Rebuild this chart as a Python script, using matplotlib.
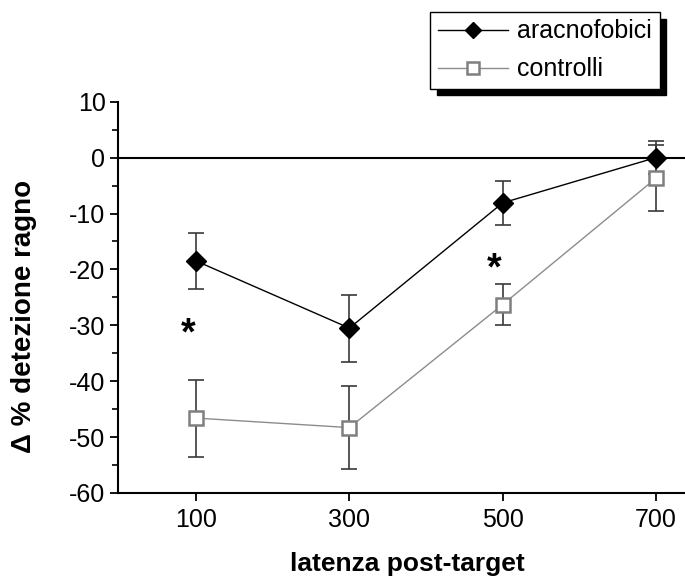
import matplotlib
matplotlib.use("Agg")
import matplotlib.pyplot as plt
from matplotlib.ticker import MultipleLocator

plt.rcParams['font.family'] = ['Liberation Sans', 'DejaVu Sans']
plt.rcParams['axes.unicode_minus'] = False

# ---- data ----
categories = ['100', '300', '500', '700']
aracno_mean = [-18.5, -30.5, -8.1, 0.0]
aracno_err = [5.0, 6.0, 3.9, 3.0]
ctrl_mean = [-46.6, -48.3, -26.3, -3.7]
ctrl_err = [6.9, 7.4, 3.6, 5.9]
series_names = ['aracnofobici', 'controlli']
sig_categories = ['100', '500']
sig_y = [-30.0, -18.5]
y_ticks = [10, 0, -10, -20, -30, -40, -50, -60]
xlabel = 'latenza post-target'
ylabel = 'Δ % detezione ragno'

fig = plt.figure(figsize=(6.85, 5.80), dpi=100)
ax = fig.add_axes([118/685, 1-493/580, 1-118/685, (493-101.7)/580])

x = list(range(len(categories)))

ax.axhline(0, color='black', lw=1.5, zorder=1)

err_color = '#3a3a3a'
ax.errorbar(x, ctrl_mean, yerr=ctrl_err, fmt='none', ecolor=err_color,
            elinewidth=1.2, capsize=5.8, capthick=1.2, zorder=2)
ax.errorbar(x, aracno_mean, yerr=aracno_err, fmt='none', ecolor=err_color,
            elinewidth=1.2, capsize=5.8, capthick=1.2, zorder=2)

ax.plot(x, ctrl_mean, color='#8c8c8c', lw=1.0, marker='s', ms=10,
        mfc='white', mec='#7f7f7f', mew=1.8, zorder=3, label=series_names[1])
ax.plot(x, aracno_mean, color='black', lw=1.0, marker='D', ms=10,
        mfc='black', mec='black', zorder=4, label=series_names[0])

for cat, yv in zip(sig_categories, sig_y):
    ax.annotate('*', xy=(categories.index(cat), yv), xytext=(-6, -13.5),
                textcoords='offset points', ha='center', va='baseline',
                fontsize=27, fontweight='bold')

ax.set_xlim(-0.51, 3.19)
ax.set_ylim(-60, 10)
ax.set_xticks(x)
ax.set_xticklabels(categories)
ax.set_yticks(y_ticks)
ax.yaxis.set_minor_locator(MultipleLocator(5))

for s in ['top', 'right']:
    ax.spines[s].set_visible(False)
for s in ['left', 'bottom']:
    ax.spines[s].set_linewidth(1.5)

ax.tick_params(axis='both', which='major', direction='out', length=6, width=1.3,
               labelsize=18, pad=3)
ax.tick_params(axis='y', which='minor', direction='out', length=4, width=1.2)
ax.tick_params(axis='x', which='major', pad=5)

ax.set_xlabel(xlabel, fontsize=19, fontweight='bold')
ax.xaxis.set_label_coords(0.51, -0.152)
ax.set_ylabel(ylabel, fontsize=20, fontweight='bold', va='center')
ax.yaxis.set_label_coords(-0.166, 0.452)

handles, labels = ax.get_legend_handles_labels()
leg = fig.legend(handles[::-1], labels[::-1], loc='upper left',
                 bbox_to_anchor=(430/685, 1-12/580), fontsize=18,
                 frameon=True, fancybox=False, edgecolor='black',
                 shadow={'color': 'black', 'alpha': 1, 'ox': 4.8, 'oy': -4.8},
                 handlelength=2.8, handletextpad=0.4, borderpad=0.3,
                 labelspacing=0.55, markerscale=0.85, borderaxespad=0)
leg.get_frame().set_linewidth(1.0)

fig.savefig('out.png', dpi=100)
